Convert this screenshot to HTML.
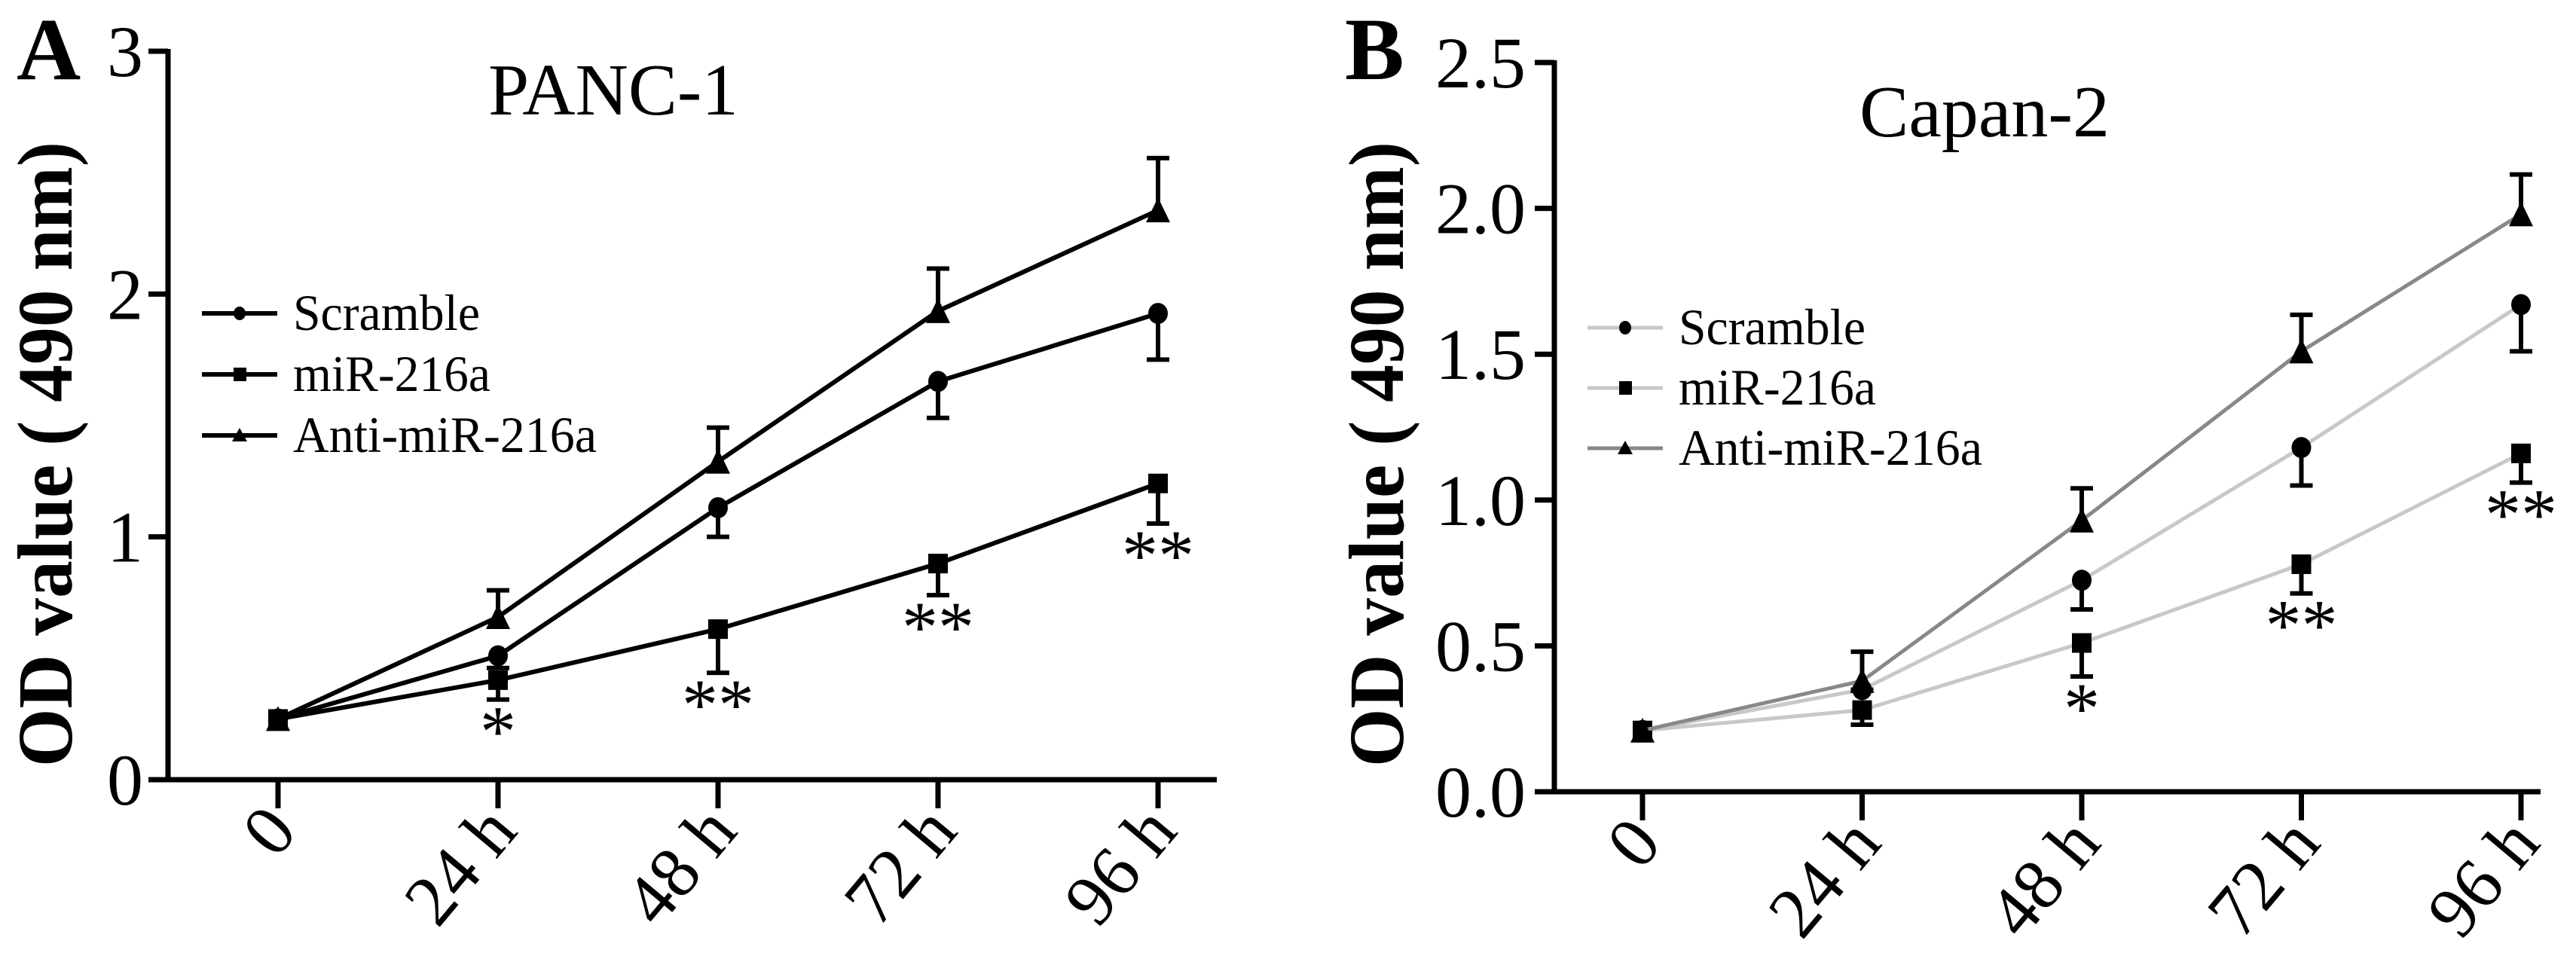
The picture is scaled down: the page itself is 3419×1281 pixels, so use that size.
<!DOCTYPE html>
<html><head><meta charset="utf-8"><style>
html,body{margin:0;padding:0;background:#fff;}
svg{display:block;font-family:"Liberation Serif","Times New Roman",serif;}
</style></head><body>
<svg id="chart" width="3419" height="1281" viewBox="0 0 3419 1281" xmlns="http://www.w3.org/2000/svg"></svg>
<script>
const categories = ["0","24 h","48 h","72 h","96 h"];
// Panel A (PANC-1)
const aScramble = [0.25,0.51,1.12,1.64,1.92];
const aScrambleErr = [0.25,0.46,1.00,1.49,1.73];
const aMir = [0.25,0.41,0.62,0.89,1.22];
const aMirErr = [0.25,0.33,0.44,0.76,1.055];
const aAnti = [0.25,0.67,1.31,1.93,2.345];
const aAntiErr = [0.25,0.78,1.45,2.105,2.56];
const aStars = ["","*","**","**","**"];
const aTicks = [0,1,2,3];
const aTickLabels = ["0","1","2","3"];
// Panel B (Capan-2)
const bScramble = [0.21,0.35,0.725,1.18,1.67];
const bScrambleErr = [0.21,0.35,0.625,1.05,1.51];
const bMir = [0.21,0.28,0.51,0.78,1.16];
const bMirErr = [0.21,0.23,0.395,0.68,1.06];
const bAnti = [0.21,0.38,0.93,1.51,1.98];
const bAntiErr = [0.21,0.48,1.04,1.635,2.116];
const bStars = ["","","*","**","**"];
const bTicks = [0,0.5,1,1.5,2,2.5];
const bTickLabels = ["0.0","0.5","1.0","1.5","2.0","2.5"];

const NS="http://www.w3.org/2000/svg";
const svg=document.getElementById('chart');
function mk(tag,attrs,parent,text){const e=document.createElementNS(NS,tag);for(const k in attrs)e.setAttribute(k,attrs[k]);if(text!==undefined)e.textContent=text;(parent||svg).appendChild(e);return e;}

function marker(g,type,x,y){
  let m;
  if(type==='circle'){m=mk('ellipse',{cx:x,cy:y,rx:13,ry:14,fill:'#000'},g);}
  else if(type==='square'){m=mk('rect',{x:x-13,y:y-13,width:26,height:26,fill:'#000'},g);}
  else {m=mk('polygon',{points:`${x},${y-17} ${x+16},${y+16} ${x-16},${y+16}`,fill:'#000'},g);}
  return m;
}

function panel(cfg){
  const g=mk('g',{});
  
  
  const X=i=>cfg.x0+i*cfg.dx;
  const Y=v=>cfg.y0-(v/cfg.ymax)*(cfg.y0-cfg.yTop);
  const ya=mk('line',{x1:cfg.axX,y1:cfg.yTop-3,x2:cfg.axX,y2:cfg.y0+3,stroke:'#000','stroke-width':7},g);
  
  
  const xa=mk('line',{x1:cfg.axX-26,y1:cfg.y0,x2:cfg.xEnd,y2:cfg.y0,stroke:'#000','stroke-width':7},g);
  
  
  cfg.ticks.forEach((t,i)=>{
    const y=Y(t);
    mk('line',{x1:cfg.axX-26,y1:y,x2:cfg.axX,y2:y,stroke:'#000','stroke-width':7},g);
    const tl=mk('text',{x:cfg.tickLabelX,y:y+33,'text-anchor':'end','font-size':96},g,cfg.tickLabels[i]);
    
    
  });
  categories.forEach((c,i)=>{
    const x=X(i);
    mk('line',{x1:x,y1:cfg.y0,x2:x,y2:cfg.y0+38,stroke:'#000','stroke-width':7},g);
    const tx=x+28, ty=cfg.y0+70;
    const tl=mk('text',{x:tx,y:ty,'text-anchor':'end','font-size':96,transform:`rotate(-50 ${tx} ${ty})`},g,c);
    
    
  });
  const yl=mk('text',{x:cfg.ylx,y:cfg.yly,'text-anchor':'middle','font-size':104,'font-weight':'bold',transform:`rotate(-90 ${cfg.ylx} ${cfg.yly})`,textLength:830,lengthAdjust:'spacingAndGlyphs'},g,'OD value ( 490 nm)');
  
  
  const pl=mk('text',{x:cfg.letterX,y:105,'font-size':118,'font-weight':'bold'},g,cfg.letter);
  
  
  const tt=mk('text',{x:cfg.titleX,y:cfg.titleY,'text-anchor':'middle','font-size':98,textLength:cfg.titleLen,lengthAdjust:'spacingAndGlyphs'},g,cfg.title);
  
  
  cfg.series.forEach(s=>{
    const sg=mk('g',{},g);
    
    
    const pts=s.vals.map((v,i)=>`${X(i)},${Y(v)}`).join(' ');
    const ln=mk('polyline',{points:pts,fill:'none',stroke:s.color,'stroke-width':s.lw},sg);
    
    
    s.vals.forEach((v,i)=>{
      const x=X(i);
      if(i>0){
        const ye=Y(s.err[i]);
        const eb=mk('path',{d:`M${x},${Y(v)} L${x},${ye} M${x-15},${ye} L${x+15},${ye}`,stroke:'#000','stroke-width':6,fill:'none'},sg);
        
        
      }
      const m=marker(sg,s.marker,x,Y(v));
      
      
    });
  });
  cfg.stars.forEach((st,i)=>{
    if(!st)return;
    const x=X(i);
    const y=Y(cfg.starBase[i])+75;
    const t=mk('text',{x:x,y:y,'text-anchor':'middle','font-size':96},g,st);
    
    
  });
  const lg=mk('g',{},g);
  
  
  cfg.series.forEach((s,k)=>{
    const y=cfg.legY+k*cfg.legDy;
    const eg=mk('g',{},lg);
    
    
    mk('line',{x1:cfg.legX,y1:y,x2:cfg.legX+100,y2:y,stroke:s.color,'stroke-width':s.lw},eg);
    if(s.marker==='circle') mk('ellipse',{cx:cfg.legX+50,cy:y,rx:8,ry:9,fill:'#000'},eg);
    else if(s.marker==='square') mk('rect',{x:cfg.legX+42,y:y-9,width:17,height:18,fill:'#000'},eg);
    else mk('polygon',{points:`${cfg.legX+50},${y-10} ${cfg.legX+60},${y+8} ${cfg.legX+40},${y+8}`,fill:'#000'},eg);
    mk('text',{x:cfg.legX+121,y:y+22,'font-size':68,textLength:s.tl,lengthAdjust:'spacingAndGlyphs'},eg,s.label);
  });
}

panel({name:'panel-a-panc1',letter:'A',letterX:22,title:'PANC-1',titleX:814,titleY:152,titleLen:332,
  axX:223,x0:369,dx:292,xEnd:1615,y0:1035,yTop:68,ymax:3,ticks:aTicks,tickLabels:aTickLabels,tickLabelX:190,
  ylx:95,yly:603,legX:268,legY:416,legDy:81,
  stars:aStars,starBase:aMirErr,
  series:[
   {key:'scramble',label:'Scramble',vals:aScramble,err:aScrambleErr,marker:'circle',color:'#000',lw:6,tl:248},
   {key:'mir-216a',label:'miR-216a',vals:aMir,err:aMirErr,marker:'square',color:'#000',lw:6,tl:262},
   {key:'anti-mir-216a',label:'Anti-miR-216a',vals:aAnti,err:aAntiErr,marker:'triangle',color:'#000',lw:6,tl:403}
  ]});
panel({name:'panel-b-capan2',letter:'B',letterX:1785,title:'Capan-2',titleX:2634,titleY:181,titleLen:332,
  axX:2063,x0:2180,dx:291.5,xEnd:3372,y0:1051,yTop:83,ymax:2.5,ticks:bTicks,tickLabels:bTickLabels,tickLabelX:2025,
  ylx:1862,yly:603,legX:2107,legY:435,legDy:80,
  stars:bStars,starBase:bMirErr,
  series:[
   {key:'scramble',label:'Scramble',vals:bScramble,err:bScrambleErr,marker:'circle',color:'#c8c8c8',lw:5,tl:248},
   {key:'mir-216a',label:'miR-216a',vals:bMir,err:bMirErr,marker:'square',color:'#c8c8c8',lw:5,tl:262},
   {key:'anti-mir-216a',label:'Anti-miR-216a',vals:bAnti,err:bAntiErr,marker:'triangle',color:'#888888',lw:5,tl:403}
  ]});
</script>
</body></html>
